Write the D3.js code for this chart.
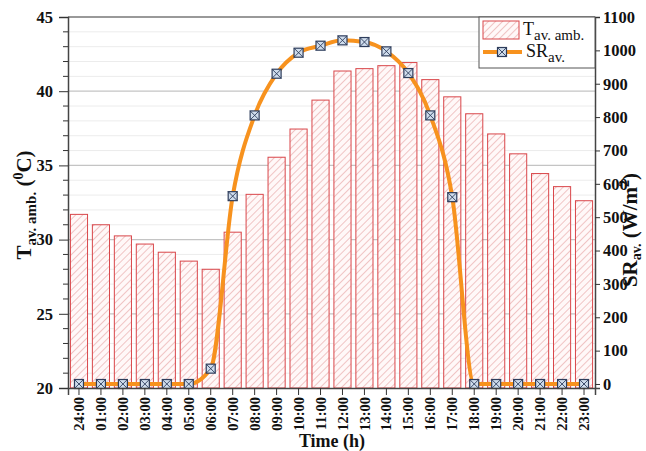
<!DOCTYPE html>
<html><head><meta charset="utf-8">
<script src="https://cdn.jsdelivr.net/npm/d3@7"></script>
<style>body{margin:0;background:#fff}svg{display:block}text{font-family:"Liberation Serif","Times New Roman",serif;font-weight:bold}</style>
</head><body><svg id="c" width="646" height="451"></svg>
<script>
const hours = ["24:00","01:00","02:00","03:00","04:00","05:00","06:00","07:00","08:00","09:00","10:00","11:00","12:00","13:00","14:00","15:00","16:00","17:00","18:00","19:00","20:00","21:00","22:00","23:00"];
const tempAvg = [31.7,31.0,30.25,29.7,29.15,28.55,28.0,30.5,33.05,35.55,37.45,39.4,41.36,41.52,41.72,41.93,40.78,39.62,38.48,37.12,35.78,34.45,33.57,32.62];
const srAvg = [0,0,0,0,0,0,46,563,805,930,993,1014,1030,1025,997,932,805,560,0,0,0,0,0,0];
const leftTicks = [20,25,30,35,40,45];
const rightTicks = [0,100,200,300,400,500,600,700,800,900,1000,1100];

const svg = d3.select("#c");
const L=68, R=595, T=17, B=388;
const x = d3.scaleBand().domain(hours).range([L,R]).paddingInner(0.22).paddingOuter(0.11);
const yL = d3.scaleLinear().domain([20,45]).range([B,T]);
const yR = d3.scaleLinear().domain([-12,1100]).range([B,T]);

const defs = svg.append("defs");
const pat = defs.append("pattern").attr("id","hatch").attr("patternUnits","userSpaceOnUse")
  .attr("width",5).attr("height",5).attr("patternTransform","rotate(45)");
pat.append("rect").attr("width",5).attr("height",5).attr("fill","#fff8f8");
pat.append("line").attr("x1",0).attr("y1",0).attr("x2",0).attr("y2",5).attr("stroke","#e59a9a").attr("stroke-width",1.1);

// grid
const minor = d3.range(20,46,1).filter(v=>v%5!==0);
svg.append("g").selectAll("line").data(minor).join("line")
  .attr("x1",L).attr("x2",R).attr("y1",d=>yL(d)).attr("y2",d=>yL(d)).attr("stroke","#ececec").attr("stroke-width",1);
svg.append("g").selectAll("line").data(leftTicks.filter(d=>d>20&&d<45)).join("line")
  .attr("x1",L).attr("x2",R).attr("y1",d=>yL(d)).attr("y2",d=>yL(d)).attr("stroke","#c4c4c4").attr("stroke-width",1.2);

// bars
svg.append("g").selectAll("rect").data(hours).join("rect")
  .attr("x",d=>x(d)).attr("width",x.bandwidth())
  .attr("y",(d,i)=>yL(tempAvg[i])).attr("height",(d,i)=>B-yL(tempAvg[i]))
  .attr("fill","url(#hatch)").attr("stroke","#d9464a").attr("stroke-width",1);

// line
const cx = d=>x(d)+x.bandwidth()/2;
const line = d3.line().x((d,i)=>cx(hours[i])).y(d=>yR(d)).curve(d3.curveMonotoneX);
svg.append("path").datum(srAvg).attr("d",line).attr("fill","none").attr("stroke","#f7921e").attr("stroke-width",4);

function marker(g, px, py){
  const s=4.5;
  g.append("rect").attr("x",px-s).attr("y",py-s).attr("width",2*s).attr("height",2*s)
   .attr("fill","#cfdcec").attr("stroke","#2e3d5c").attr("stroke-width",1.2);
  g.append("path").attr("d",`M${px-s},${py-s}L${px+s},${py+s}M${px+s},${py-s}L${px-s},${py+s}`)
   .attr("stroke","#2e3d5c").attr("stroke-width",0.9);
}
const mg = svg.append("g");
srAvg.forEach((v,i)=>marker(mg, cx(hours[i]), yR(v)));

// frame
svg.append("line").attr("x1",L).attr("x2",R).attr("y1",T).attr("y2",T).attr("stroke","#777").attr("stroke-width",1.5);

// axes
const axL = d3.axisLeft(yL).tickValues(leftTicks).tickSize(9).tickPadding(6);
const gL = svg.append("g").attr("transform",`translate(${L},0)`).call(axL);
gL.selectAll("text").attr("font-size",16.5).attr("fill","#111");
gL.append("g").selectAll("line").data(minor).join("line")
  .attr("x1",-5).attr("x2",0).attr("y1",d=>yL(d)).attr("y2",d=>yL(d)).attr("stroke","#333");

const axR = d3.axisRight(yR).tickValues(rightTicks).tickFormat(d3.format("d")).tickSize(5).tickPadding(3);
const gR = svg.append("g").attr("transform",`translate(${R},0)`).call(axR);
gR.selectAll("text").attr("font-size",16.5).attr("fill","#111");

const axB = d3.axisBottom(x).tickSize(7).tickPadding(3);
const gB = svg.append("g").attr("transform",`translate(0,${B})`).call(axB);
gB.selectAll("text").attr("font-size",14.5).attr("fill","#111")
  .attr("transform","rotate(-90)").attr("text-anchor","end").attr("x",-9).attr("y",0).attr("dy","0.35em");
[gL,gR,gB].forEach(g=>{g.select(".domain").attr("stroke","#444").attr("stroke-width",1.5);g.selectAll(".tick line").attr("stroke","#333");});

// titles
svg.append("text").attr("x",332).attr("y",446.5).attr("text-anchor","middle").attr("font-size",18).attr("fill","#111").text("Time (h)");
const lt = svg.append("text").attr("transform","translate(31,205) rotate(-90)").attr("text-anchor","middle").attr("font-size",21).attr("fill","#111");
lt.append("tspan").text("T");
lt.append("tspan").attr("font-size",15).attr("dy",5).text("av. amb.");
lt.append("tspan").attr("dy",-5).text(" (");
lt.append("tspan").attr("font-size",14).attr("dy",-8).text("0");
lt.append("tspan").attr("dy",8).text("C)");

const rt = svg.append("text").attr("transform","translate(637,230) rotate(-90)").attr("text-anchor","middle").attr("font-size",21).attr("fill","#111");
rt.append("tspan").text("SR");
rt.append("tspan").attr("font-size",14).attr("dy",4).text("av.");
rt.append("tspan").attr("dy",-4).text(" (W/m");
rt.append("tspan").attr("font-size",14).attr("dy",-8).text("2");
rt.append("tspan").attr("dy",8).text(")");

// legend
const lg = svg.append("g");
lg.append("rect").attr("x",479).attr("y",T).attr("width",R-479).attr("height",51).attr("fill","#fff").attr("stroke","#555").attr("stroke-width",1);
lg.append("rect").attr("x",483).attr("y",21).attr("width",36).attr("height",18).attr("fill","url(#hatch)").attr("stroke","#d9464a");
const t1 = lg.append("text").attr("x",523).attr("y",35).attr("font-size",18).attr("fill","#111");
t1.append("tspan").attr("font-weight","normal").text("T");
t1.append("tspan").attr("font-weight","normal").attr("font-size",15).attr("dy",5).text("av. amb.");
lg.append("line").attr("x1",483).attr("x2",522).attr("y1",52).attr("y2",52).attr("stroke","#f7921e").attr("stroke-width",4);
marker(lg,502,52);
const t2 = lg.append("text").attr("x",526).attr("y",57).attr("font-size",18).attr("fill","#111");
t2.append("tspan").attr("font-weight","normal").text("SR");
t2.append("tspan").attr("font-weight","normal").attr("font-size",15).attr("dy",5).text("av.");
</script></body></html>
